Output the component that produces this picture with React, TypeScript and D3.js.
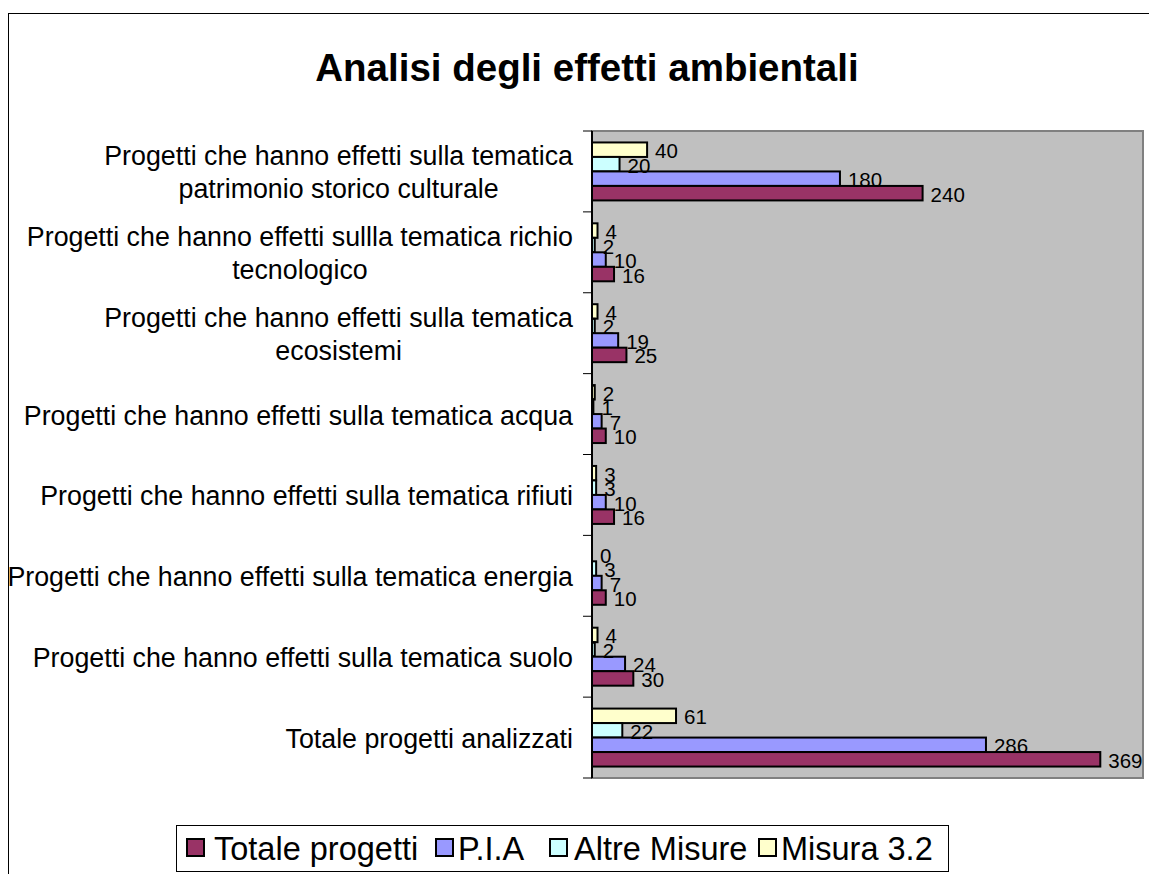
import React, { useEffect, useRef } from "react";
import * as d3 from "d3";

const title = "Analisi degli effetti ambientali";

const categories = [
  "Progetti che hanno effetti sulla tematica patrimonio storico culturale",
  "Progetti che hanno effetti sullla tematica richio tecnologico",
  "Progetti che hanno effetti sulla tematica ecosistemi",
  "Progetti che hanno effetti sulla tematica acqua",
  "Progetti che hanno effetti sulla tematica rifiuti",
  "Progetti che hanno effetti sulla tematica energia",
  "Progetti che hanno effetti sulla tematica suolo",
  "Totale progetti analizzati",
];

const seriesNames = ["Totale progetti", "P.I.A", "Altre Misure", "Misura 3.2"];
const seriesColors = ["#993366", "#9999FF", "#CCFFFF", "#FFFFCC"];

const totaleProgetti = [240, 16, 25, 10, 16, 10, 30, 369];
const pia = [180, 10, 19, 7, 10, 7, 24, 286];
const altreMisure = [20, 2, 2, 1, 3, 3, 2, 22];
const misura32 = [40, 4, 4, 2, 3, 0, 4, 61];

const seriesValues = [totaleProgetti, pia, altreMisure, misura32];

const FONT = "'Liberation Sans', Arial, Helvetica, sans-serif";

export default function App() {
  const ref = useRef<SVGSVGElement | null>(null);

  useEffect(() => {
    const svg = d3.select(ref.current);
    svg.selectAll("*").remove();

    const left = 592, right = 1143, top = 131, bottom = 778;

    // outer chart border
    svg.append("rect")
      .attr("x", 8.5).attr("y", 13.5)
      .attr("width", 1300).attr("height", 1000)
      .attr("fill", "#fff").attr("stroke", "#000").attr("stroke-width", 1);

    // title
    svg.append("text")
      .attr("x", 587).attr("y", 67)
      .attr("text-anchor", "middle")
      .attr("dominant-baseline", "central")
      .attr("font-family", FONT)
      .attr("font-weight", "bold")
      .attr("font-size", 38.5)
      .text(title);

    const x = d3.scaleLinear().domain([0, 400]).range([left, right]);
    const y = d3.scaleBand<string>().domain(categories).range([top, bottom]).paddingInner(0).paddingOuter(0);
    const order = [3, 2, 1, 0]; // top-to-bottom within a group
    const sub = d3.scaleBand<number>().domain(order).range([0, y.bandwidth()]).paddingInner(0).paddingOuter(0.79);

    // plot area
    svg.append("rect")
      .attr("x", left).attr("y", top)
      .attr("width", right - left).attr("height", bottom - top)
      .attr("fill", "#C0C0C0").attr("stroke", "#808080").attr("stroke-width", 2);

    // bars
    const gBars = svg.append("g");
    categories.forEach((c, ci) => {
      order.forEach((si) => {
        const v = seriesValues[si][ci];
        const by = (y(c) as number) + (sub(si) as number);
        gBars.append("rect")
          .attr("x", x(0)).attr("y", by)
          .attr("width", x(v) - x(0)).attr("height", sub.bandwidth())
          .attr("fill", seriesColors[si])
          .attr("stroke", "#000").attr("stroke-width", 2);
      });
    });

    // value labels
    const gLab = svg.append("g");
    categories.forEach((c, ci) => {
      order.forEach((si) => {
        const v = seriesValues[si][ci];
        const by = (y(c) as number) + (sub(si) as number);
        gLab.append("text")
          .attr("x", x(v) + 8)
          .attr("y", by + sub.bandwidth() / 2 + 1)
          .attr("dominant-baseline", "central")
          .attr("font-family", FONT)
          .attr("font-size", 20.5)
          .text(String(v));
      });
    });

    // axis line and ticks
    svg.append("line")
      .attr("x1", left).attr("x2", left).attr("y1", top).attr("y2", bottom)
      .attr("stroke", "#000").attr("stroke-width", 2);
    const tickYs = categories.map((c) => y(c) as number).concat([bottom]);
    svg.append("g").selectAll("line").data(tickYs).join("line")
      .attr("x1", left - 9).attr("x2", left)
      .attr("y1", (d) => d).attr("y2", (d) => d)
      .attr("stroke", "#000").attr("stroke-width", 1);

    // category labels with wrapping
    const labelRight = 573;
    const maxW = 575;
    const fs = 26.8;
    const lineH = 33;
    const gCat = svg.append("g");
    categories.forEach((c) => {
      const words = c.split(" ");
      const probe = gCat.append("text").attr("font-family", FONT).attr("font-size", fs);
      const lines: string[] = [];
      let cur = "";
      words.forEach((w) => {
        const test = cur ? cur + " " + w : w;
        probe.text(test);
        const tw = (probe.node() as SVGTextElement).getComputedTextLength();
        if (tw > maxW && cur) {
          lines.push(cur);
          cur = w;
        } else cur = test;
      });
      if (cur) lines.push(cur);
      const widths = lines.map((l) => {
        probe.text(l);
        return (probe.node() as SVGTextElement).getComputedTextLength();
      });
      probe.remove();
      const mw = Math.max(...widths);
      const cx = labelRight - mw / 2;
      const cy = (y(c) as number) + y.bandwidth() / 2 + 1.5;
      lines.forEach((l, li) => {
        gCat.append("text")
          .attr("x", cx)
          .attr("y", cy + (li - (lines.length - 1) / 2) * lineH)
          .attr("text-anchor", "middle")
          .attr("dominant-baseline", "central")
          .attr("font-family", FONT)
          .attr("font-size", fs)
          .text(l);
      });
    });

    // legend
    svg.append("rect")
      .attr("x", 176.5).attr("y", 825.5).attr("width", 772).attr("height", 46)
      .attr("fill", "#fff").attr("stroke", "#000").attr("stroke-width", 1);
    const swatchX = [187, 436, 550, 759];
    const textX = [214, 458, 574, 781];
    seriesNames.forEach((n, i) => {
      svg.append("rect")
        .attr("x", swatchX[i]).attr("y", 839)
        .attr("width", 17).attr("height", 17)
        .attr("fill", seriesColors[i]).attr("stroke", "#000").attr("stroke-width", 2);
      svg.append("text")
        .attr("x", textX[i]).attr("y", 849)
        .attr("dominant-baseline", "central")
        .attr("font-family", FONT)
        .attr("font-size", 32.5)
        .text(n);
    });
  }, []);

  return (
    <svg
      ref={ref}
      width={1149}
      height={874}
      style={{ position: "absolute", left: 0, top: 0, background: "#fff" }}
    />
  );
}
